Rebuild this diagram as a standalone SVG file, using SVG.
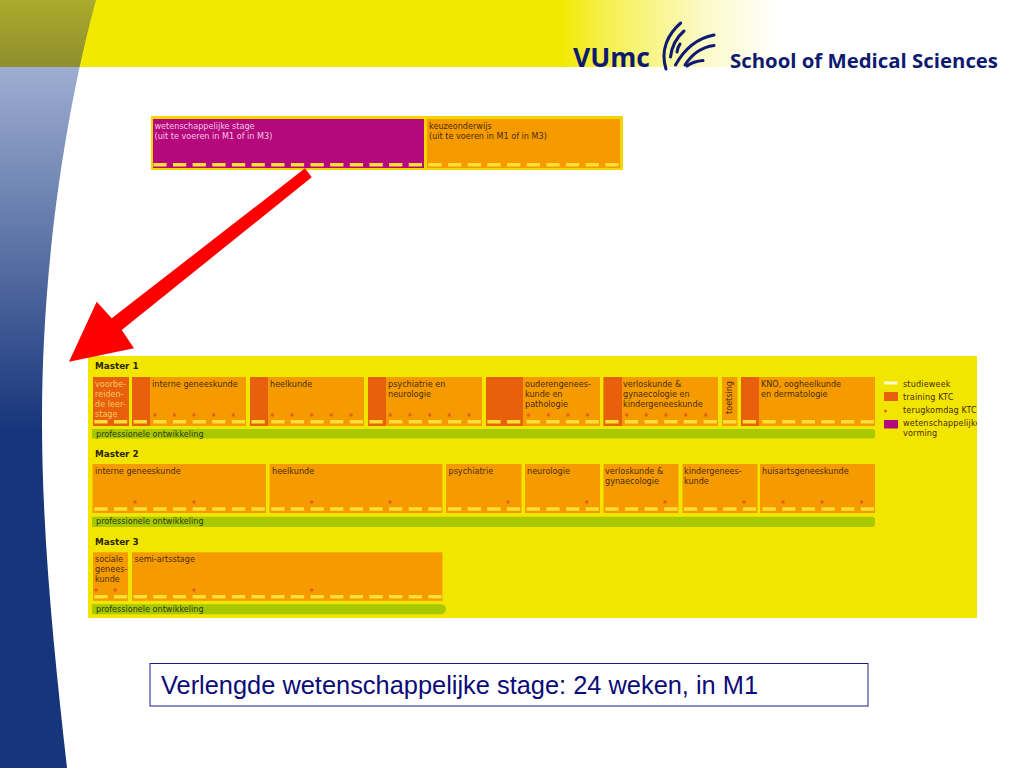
<svg xmlns="http://www.w3.org/2000/svg" xmlns:xlink="http://www.w3.org/1999/xlink" width="1024" height="768" viewBox="0 0 1024 768">
<style>
.t{font-family:"DejaVu Sans","Liberation Sans",sans-serif;font-size:8.1px;fill:#4a2c00}
.b{fill:#f59b00}
.tr{fill:#e8600c}
.d{stroke:#fbdf35;stroke-width:3.500;stroke-dasharray:13.3 6.35;fill:none}
.o{fill:#e8601c}
.h{font-family:"DejaVu Sans","Liberation Sans",sans-serif;font-size:8.800px;font-weight:bold;fill:#2a2400}
.p{fill:#a8c800}
.s{stroke:#0d1a70;stroke-width:3;fill:none;stroke-linecap:round}
</style>
<defs>
<linearGradient id="blue" gradientUnits="userSpaceOnUse" x1="0" y1="67" x2="0" y2="430"><stop offset="0" stop-color="#9fadd2"/><stop offset="0.35" stop-color="#6f85b2"/><stop offset="1" stop-color="#17357b"/></linearGradient>
<linearGradient id="olive" x1="0" y1="0" x2="0" y2="1"><stop offset="0" stop-color="#abab2c"/><stop offset="1" stop-color="#8f8f2e"/></linearGradient>
<linearGradient id="band" x1="0" y1="0" x2="1" y2="0"><stop offset="0" stop-color="#f2e900"/><stop offset="0.2" stop-color="#f2e900" stop-opacity="0.7"/><stop offset="0.65" stop-color="#f2e900" stop-opacity="0.22"/><stop offset="1" stop-color="#f2e900" stop-opacity="0"/></linearGradient>
<clipPath id="panelclip"><rect x="88" y="356" width="889" height="262"/></clipPath>
<clipPath id="sideclip"><path d="M0 0H96C70 95 42 250 42 420C42 540 55 660 67 768H0Z"/></clipPath>
</defs>
<g id="background">
<rect x="0" y="0" width="1024" height="768" fill="#fff"/>
<rect x="0" y="0" width="560" height="67" fill="#f2e900"/>
<rect x="560" y="0" width="220" height="67" fill="url(#band)"/>
<g clip-path="url(#sideclip)">
<rect x="0" y="67" width="100" height="701" fill="url(#blue)"/>
<rect x="0" y="0" width="100" height="67" fill="url(#olive)"/>
</g>
</g>
<g id="logo">
<text x="573" y="67" font-family="'Open Sans',sans-serif" font-weight="700" font-size="26" fill="#0d1a70" textLength="77" lengthAdjust="spacingAndGlyphs">VUmc</text>
<path class="s" d="M680.7 23C668 34 660 50 666 69"/>
<path class="s" d="M684 31C677 37 672 44 670.500 57" stroke-width="2.400"/>
<path class="s" d="M680 44C678.500 46 677.500 49 677 52" stroke-width="2.200"/>
<path class="s" d="M714 35C698 38 685 48 675.500 65"/>
<path class="s" d="M714 45.500C702 47 692 54 685 65"/>
<path class="s" d="M703 60.500C697 61 691 63 687 66"/>
<text x="730" y="67.500" font-family="'Open Sans',sans-serif" font-weight="700" font-size="20" fill="#0d1a70" textLength="268" lengthAdjust="spacingAndGlyphs">School of Medical Sciences</text>
</g>
<g id="top-frame"><rect x="151" y="116" width="472" height="54" fill="#f5d400"/></g>
<g id="wetenschappelijke-stage">
<rect x="153" y="119" width="271" height="49" fill="#b5087c"/>
<line class="d" x1="153.300" y1="164.700" x2="424" y2="164.700"/>
<text class="t" x="154.500" y="129" style="fill:#f3c8e2">wetenschappelijke stage</text>
<text class="t" x="154.500" y="139" style="fill:#f3c8e2">(uit te voeren in M1 of in M3)</text>
</g>
<g id="keuzeonderwijs">
<rect class="b" x="427" y="119" width="193" height="49"/>
<line class="d" x1="428.400" y1="164.700" x2="619" y2="164.700"/>
<text class="t" x="429" y="129">keuzeonderwijs</text>
<text class="t" x="429" y="139">(uit te voeren in M1 of in M3)</text>
</g>
<g id="panel"><rect x="88" y="356" width="889" height="262" fill="#f2e600"/></g>
<text class="h" x="95" y="369">Master 1</text>
<text class="h" x="95" y="457">Master 2</text>
<text class="h" x="95" y="544.500">Master 3</text>
<g id="m1-voorbereiding">
<rect class="tr" x="93" y="377" width="36" height="49"/>
<line class="d" x1="94.300" y1="421.800" x2="127.300" y2="421.800"/>
<text class="t" x="95" y="386.500" style="fill:#f9c860">voorbe-</text><text class="t" x="95" y="396.500" style="fill:#f9c860">reiden-</text><text class="t" x="95" y="406.500" style="fill:#f9c860">de leer-</text><text class="t" x="95" y="416.500" style="fill:#f9c860">stage</text>
</g>
<g id="m1-interne">
<rect class="b" x="132" y="377" width="114" height="49"/><rect class="tr" x="132" y="377" width="18" height="49"/>
<line class="d" x1="133.600" y1="421.800" x2="246" y2="421.800"/>
<circle class="o" cx="155" cy="415" r="1.800"/><circle class="o" cx="174.500" cy="415" r="1.800"/><circle class="o" cx="194" cy="415" r="1.800"/><circle class="o" cx="213.700" cy="415" r="1.800"/><circle class="o" cx="233.300" cy="415" r="1.800"/>
<text class="t" x="152" y="386.500">interne geneeskunde</text>
</g>
<g id="m1-heelkunde">
<rect class="b" x="250" y="377" width="114" height="49"/><rect class="tr" x="250" y="377" width="18" height="49"/>
<line class="d" x1="251.500" y1="421.800" x2="364" y2="421.800"/>
<circle class="o" cx="272.500" cy="415" r="1.800"/><circle class="o" cx="292" cy="415" r="1.800"/><circle class="o" cx="311.700" cy="415" r="1.800"/><circle class="o" cx="331.300" cy="415" r="1.800"/><circle class="o" cx="351" cy="415" r="1.800"/>
<text class="t" x="270" y="386.500">heelkunde</text>
</g>
<g id="m1-psychiatrie">
<rect class="b" x="368" y="377" width="114" height="49"/><rect class="tr" x="368" y="377" width="18" height="49"/>
<line class="d" x1="369.400" y1="421.800" x2="482" y2="421.800"/>
<circle class="o" cx="390.300" cy="415" r="1.800"/><circle class="o" cx="410" cy="415" r="1.800"/><circle class="o" cx="429.700" cy="415" r="1.800"/><circle class="o" cx="449.300" cy="415" r="1.800"/><circle class="o" cx="469" cy="415" r="1.800"/>
<text class="t" x="388" y="386.500">psychiatrie en</text><text class="t" x="388" y="396.500">neurologie</text>
</g>
<g id="m1-ouderen">
<rect class="b" x="486" y="377" width="114" height="49"/><rect class="tr" x="486" y="377" width="37" height="49"/>
<line class="d" x1="487.300" y1="421.800" x2="600" y2="421.800"/>
<circle class="o" cx="528.700" cy="415" r="1.800"/><circle class="o" cx="548.300" cy="415" r="1.800"/><circle class="o" cx="568" cy="415" r="1.800"/><circle class="o" cx="587.500" cy="415" r="1.800"/>
<text class="t" x="525" y="386.500">ouderengenees-</text><text class="t" x="525" y="396.500">kunde en</text><text class="t" x="525" y="406.500">pathologie</text>
</g>
<g id="m1-verloskunde">
<rect class="b" x="603.500" y="377" width="114.500" height="49"/><rect class="tr" x="603.500" y="377" width="18.500" height="49"/>
<line class="d" x1="605.200" y1="421.800" x2="718" y2="421.800"/>
<circle class="o" cx="626.700" cy="415" r="1.800"/><circle class="o" cx="646.300" cy="415" r="1.800"/><circle class="o" cx="666" cy="415" r="1.800"/><circle class="o" cx="685.700" cy="415" r="1.800"/><circle class="o" cx="705.700" cy="415" r="1.800"/>
<text class="t" x="623" y="386.500">verloskunde &amp;</text><text class="t" x="623" y="396.500">gynaecologie en</text><text class="t" x="623" y="406.500">kindergeneeskunde</text>
</g>
<g id="m1-toetsing">
<rect class="b" x="722" y="377" width="15.500" height="49"/>
<line class="d" x1="723.100" y1="421.800" x2="736.400" y2="421.800"/>
<text class="t" transform="translate(731.500 414) rotate(-90)">toetsing</text>
</g>
<g id="m1-kno">
<rect class="b" x="741" y="377" width="134" height="49"/><rect class="tr" x="741" y="377" width="18" height="49"/>
<line class="d" x1="742.750" y1="421.800" x2="875" y2="421.800"/>
<text class="t" x="761" y="386.500">KNO, oogheelkunde</text><text class="t" x="761" y="396.500">en dermatologie</text>
</g>
<g id="m1-pro">
<path class="p" d="M92 429H872a3 3 0 0 1 3 3V435.500a3 3 0 0 1 -3 3H92Z"/>
<text class="t" x="96" y="436.500" style="fill:#2e3a00">professionele ontwikkeling</text>
</g>
<g id="legend" clip-path="url(#panelclip)">
<rect x="884" y="381.500" width="13.500" height="3" fill="#fffbd0"/>
<rect class="tr" x="884" y="392" width="14" height="9"/>
<circle class="o" cx="885.500" cy="411" r="1.500"/>
<rect x="884" y="420" width="14" height="8.500" fill="#b5087c"/>
<text class="t" x="903" y="387" letter-spacing="0.15">studieweek</text>
<text class="t" x="903" y="399.500" letter-spacing="0.15">training KTC</text>
<text class="t" x="903" y="413" letter-spacing="0.15">terugkomdag KTC</text>
<text class="t" x="903" y="425.500" letter-spacing="0.15">wetenschappelijke</text>
<text class="t" x="903" y="436" letter-spacing="0.15">vorming</text>
</g>
<g id="m2-interne">
<rect class="b" x="92.500" y="464" width="173.500" height="49"/>
<line class="d" x1="94.300" y1="509" x2="266" y2="509"/>
<circle class="o" cx="135" cy="502" r="1.800"/><circle class="o" cx="194" cy="502" r="1.800"/>
<text class="t" x="95" y="473.500">interne geneeskunde</text>
</g>
<g id="m2-heelkunde">
<rect class="b" x="269.500" y="464" width="173" height="49"/>
<line class="d" x1="271.150" y1="509" x2="442.500" y2="509"/>
<circle class="o" cx="311.700" cy="502" r="1.800"/><circle class="o" cx="390" cy="502" r="1.800"/>
<text class="t" x="272" y="473.500">heelkunde</text>
</g>
<g id="m2-psychiatrie">
<rect class="b" x="446" y="464" width="75.500" height="49"/>
<line class="d" x1="448" y1="509" x2="521.500" y2="509"/>
<circle class="o" cx="508" cy="502" r="1.800"/>
<text class="t" x="448.500" y="473.500">psychiatrie</text>
</g>
<g id="m2-neurologie">
<rect class="b" x="525" y="464" width="75" height="49"/>
<line class="d" x1="526.700" y1="509" x2="600" y2="509"/>
<circle class="o" cx="586.700" cy="502" r="1.800"/>
<text class="t" x="527" y="473.500">neurologie</text>
</g>
<g id="m2-verloskunde">
<rect class="b" x="603.500" y="464" width="75" height="49"/>
<line class="d" x1="605.200" y1="509" x2="678.500" y2="509"/>
<circle class="o" cx="665" cy="502" r="1.800"/>
<text class="t" x="605" y="473.500">verloskunde &amp;</text><text class="t" x="605" y="483.500">gynaecologie</text>
</g>
<g id="m2-kindergeneeskunde">
<rect class="b" x="682.500" y="464" width="75" height="49"/>
<line class="d" x1="683.900" y1="509" x2="757.500" y2="509"/>
<circle class="o" cx="744" cy="502" r="1.800"/>
<text class="t" x="684" y="473.500">kindergenees-</text><text class="t" x="684" y="483.500">kunde</text>
</g>
<g id="m2-huisarts">
<rect class="b" x="760" y="464" width="115" height="49"/>
<line class="d" x1="762.500" y1="509" x2="875" y2="509"/>
<circle class="o" cx="783" cy="502" r="1.800"/><circle class="o" cx="822" cy="502" r="1.800"/><circle class="o" cx="861.500" cy="502" r="1.800"/>
<text class="t" x="762" y="473.500">huisartsgeneeskunde</text>
</g>
<g id="m2-pro">
<path class="p" d="M92 516.700H872a3 3 0 0 1 3 3V524a3 3 0 0 1 -3 3H92Z"/>
<text class="t" x="96" y="524.300" style="fill:#2e3a00">professionele ontwikkeling</text>
</g>
<g id="m3-sociale">
<rect class="b" x="93" y="552.300" width="35" height="48.500"/>
<line class="d" x1="94.300" y1="596.700" x2="127.300" y2="596.700"/>
<circle class="o" cx="96" cy="590" r="1.800"/><circle class="o" cx="115.300" cy="590" r="1.800"/>
<text class="t" x="95" y="561.800">sociale</text><text class="t" x="95" y="571.800">genees-</text><text class="t" x="95" y="581.800">kunde</text>
</g>
<g id="m3-semi-artsstage">
<rect class="b" x="132" y="552.300" width="310.500" height="48.500"/>
<line class="d" x1="133.600" y1="596.700" x2="442.500" y2="596.700"/>
<circle class="o" cx="194" cy="590" r="1.800"/><circle class="o" cx="311.700" cy="590" r="1.800"/>
<text class="t" x="134.500" y="561.800">semi-artsstage</text>
</g>
<g id="m3-pro">
<path class="p" d="M92 604.300H441a5 5 0 0 1 5 5a5 5 0 0 1 -5 5H92Z"/>
<text class="t" x="96" y="612" style="fill:#2e3a00">professionele ontwikkeling</text>
</g>
<g id="connectors">
<polygon fill="#ff0000" points="305,168.300 311.700,177.300 121.700,330 134,348.300 69,361.700 96.700,301.700 111.700,318.300"/>
</g>
<g id="note">
<rect x="150" y="663.500" width="718" height="42.500" fill="#fff" stroke="#1a1a80" stroke-width="1"/>
<text x="161" y="693.500" font-family="'Liberation Sans',Arial,sans-serif" font-size="25.400" fill="#0b0b78">Verlengde wetenschappelijke stage: 24 weken, in M1</text>
</g>
</svg>
